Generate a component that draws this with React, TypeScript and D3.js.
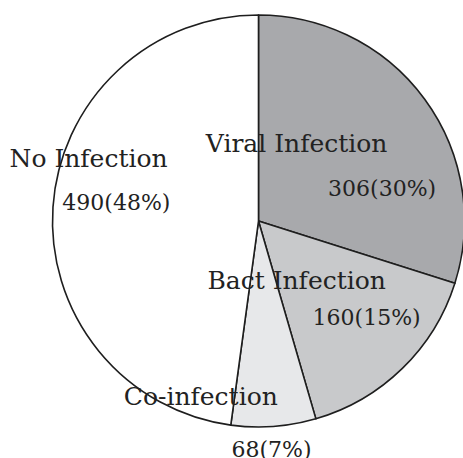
import React from 'react';
import * as d3 from 'd3';

// slice data, clockwise from 12 o'clock
const categories = ['Viral Infection', 'Bact Infection', 'Co-infection', 'No Infection'];
const counts = [306, 160, 68, 490];
const percents = [30, 15, 7, 48];
const fills = ['#a8a9ac', '#c8c9cb', '#e7e8ea', '#ffffff'];

// label placement relative to pie centre, in units of the radius: [nameDx, nameDy, valueDx, valueDy]
const labelOffsets = [
  [0.185, -0.335, 0.6, -0.12],
  [0.185, 0.33, 0.525, 0.505],
  [-0.28, 0.893, 0.063, 1.145],
  [-0.825, -0.262, -0.69, -0.053],
];

const W = 463;
const H = 458;
const cx = 258.5;
const cy = 221;
const R = 206;

export default function App() {
  const pie = d3.pie<number>().sort(null).value((d) => d);
  const arcs = pie(counts);
  const arc = d3.arc<d3.PieArcDatum<number>>().innerRadius(0).outerRadius(R);

  return (
    <svg
      width={W}
      height={H}
      style={{ position: 'absolute', left: 0, top: 0, background: '#fff' }}
    >
      <g transform={`translate(${cx},${cy})`}>
        {arcs.map((a, i) => (
          <path
            key={categories[i]}
            d={arc(a) || ''}
            fill={fills[i]}
            stroke="#1e1e1e"
            strokeWidth={1.6}
            strokeLinejoin="round"
          />
        ))}
        {arcs.map((a, i) => {
          const [nx, ny, vx, vy] = labelOffsets[i];
          return (
            <g key={'lbl' + i} fill="#222" fontFamily="'DejaVu Serif', serif" textAnchor="middle">
              <text x={nx * R} y={ny * R} fontSize={25}>
                {categories[i]}
              </text>
              <text x={vx * R} y={vy * R} fontSize={22}>
                {`${counts[i]}(${percents[i]}%)`}
              </text>
            </g>
          );
        })}
      </g>
    </svg>
  );
}
